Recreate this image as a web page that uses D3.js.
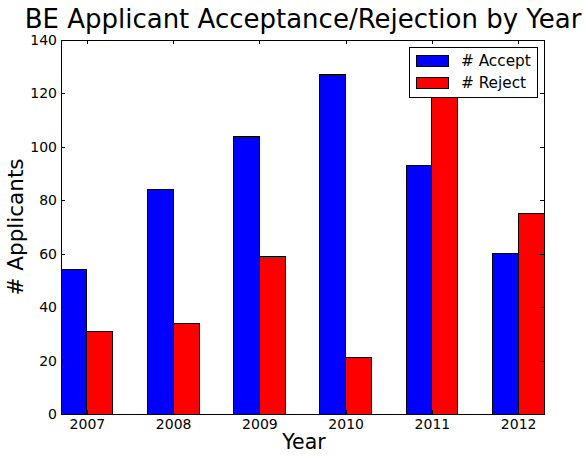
<!DOCTYPE html>
<html>
<head>
<meta charset="utf-8">
<script src="https://cdn.jsdelivr.net/npm/d3@7/dist/d3.min.js"></script>
<style>
  html, body { margin: 0; padding: 0; background: #fff; }
  svg { display: block; font-family: "DejaVu Sans", sans-serif; }
  rect, line { shape-rendering: crispEdges; }
</style>
</head>
<body>
<svg id="chart" width="587" height="458"></svg>
<script>
// Applicant counts per year
const years = [2007, 2008, 2009, 2010, 2011, 2012];
const accepted = [54, 84, 104, 127, 93, 60];
const rejected = [31, 34, 59, 21, 122, 75];
const yTicks = [0, 20, 40, 60, 80, 100, 120, 140];
const seriesNames = ["# Accept", "# Reject"];
const seriesColors = ["#0000ff", "#ff0000"];

const svg = d3.select("#chart");
const margin = { left: 61, right: 43, top: 40, bottom: 44 };
const W = 587, H = 458;
const barW = 0.3;

const x = d3.scaleLinear()
  .domain([years[0] - barW, years[years.length - 1] + barW])
  .range([margin.left, W - margin.right]);
const y = d3.scaleLinear()
  .domain([0, 140])
  .range([H - margin.bottom, margin.top]);

const plot = svg.append("g");

// bars: accepted on the left of each year, rejected on the right
plot.selectAll("rect.acc").data(years).enter().append("rect")
  .attr("class", "acc")
  .attr("x", d => x(d - barW))
  .attr("width", (d) => x(d) - x(d - barW))
  .attr("y", (d, i) => y(accepted[i]))
  .attr("height", (d, i) => y(0) - y(accepted[i]))
  .attr("fill", seriesColors[0])
  .attr("stroke", "#000").attr("stroke-width", 1);

plot.selectAll("rect.rej").data(years).enter().append("rect")
  .attr("class", "rej")
  .attr("x", d => x(d))
  .attr("width", (d) => x(d + barW) - x(d))
  .attr("y", (d, i) => y(rejected[i]))
  .attr("height", (d, i) => y(0) - y(rejected[i]))
  .attr("fill", seriesColors[1])
  .attr("stroke", "#000").attr("stroke-width", 1);

// axes with inward ticks on all four sides
const tickLen = 4;
const fontTick = 14;
const axLeft = d3.axisLeft(y).tickValues(yTicks).tickSize(-tickLen).tickPadding(4);
const axRight = d3.axisRight(y).tickValues(yTicks).tickSize(-tickLen).tickFormat("");
const axBottom = d3.axisBottom(x).tickValues(years).tickSize(-tickLen).tickPadding(5).tickFormat(d3.format("d"));
const axTop = d3.axisTop(x).tickValues(years).tickSize(-tickLen).tickFormat("");

function styleAxis(g) {
  g.select(".domain").remove();
  g.selectAll(".tick line").attr("stroke", "#000");
  g.selectAll(".tick text").attr("fill", "#000").style("font-size", fontTick + "px")
    .style("font-family", "DejaVu Sans");
}
svg.append("g").attr("transform", `translate(${margin.left},0)`).call(axLeft).call(styleAxis);
svg.append("g").attr("transform", `translate(${W - margin.right},0)`).call(axRight).call(styleAxis);
svg.append("g").attr("transform", `translate(0,${H - margin.bottom})`).call(axBottom).call(styleAxis);
svg.append("g").attr("transform", `translate(0,${margin.top})`).call(axTop).call(styleAxis);

// frame
svg.append("rect")
  .attr("x", margin.left).attr("y", margin.top)
  .attr("width", W - margin.left - margin.right)
  .attr("height", H - margin.top - margin.bottom)
  .attr("fill", "none").attr("stroke", "#000").attr("stroke-width", 1);

// title and axis labels
svg.append("text")
  .attr("x", (margin.left + W - margin.right) / 2 + 0.5).attr("y", 28)
  .attr("text-anchor", "middle").style("font-size", "26px")
  .text("BE Applicant Acceptance/Rejection by Year");
svg.append("text")
  .attr("x", (margin.left + W - margin.right) / 2 + 1.5).attr("y", 449)
  .attr("text-anchor", "middle").style("font-size", "20.5px")
  .text("Year");
svg.append("text")
  .attr("transform", `translate(22.5,${(margin.top + H - margin.bottom) / 2}) rotate(-90)`)
  .attr("text-anchor", "middle").style("font-size", "21.5px")
  .text("# Applicants");

// legend
const lg = svg.append("g").attr("transform", "translate(409,47)");
lg.append("rect").attr("x", 0).attr("y", 0).attr("width", 128).attr("height", 50)
  .attr("fill", "#fff").attr("stroke", "#000").attr("stroke-width", 1);
seriesNames.forEach((name, i) => {
  lg.append("rect").attr("x", 7).attr("y", 8 + i * 22.3).attr("width", 32).attr("height", 11)
    .attr("fill", seriesColors[i]).attr("stroke", "#000").attr("stroke-width", 1);
  lg.append("text").attr("x", 52).attr("y", 19 + i * 22.3)
    .style("font-size", "15.3px").text(name);
});
</script>
</body>
</html>
